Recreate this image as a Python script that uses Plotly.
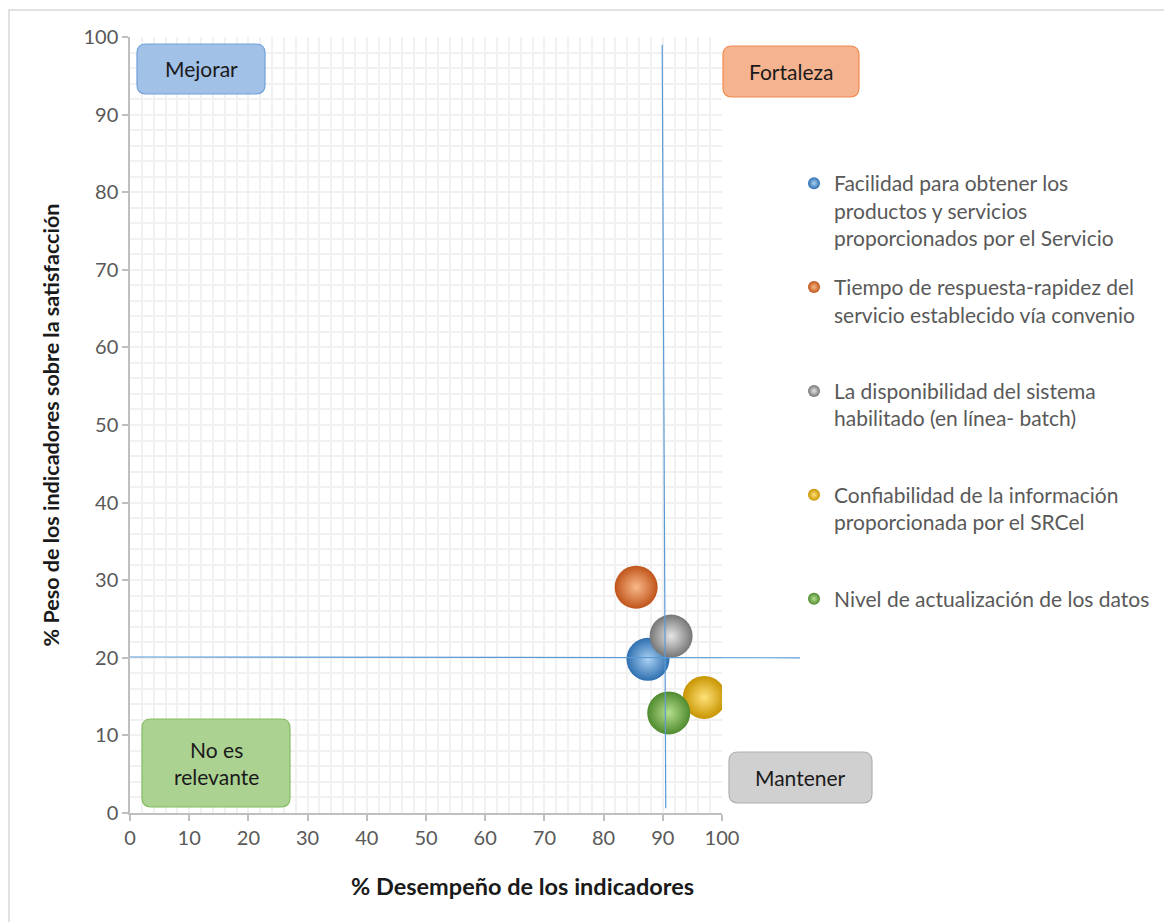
import plotly.graph_objects as go

# indicator data: % performance (x) and % weight on satisfaction (y)
indicadores = [
    "Facilidad para obtener los<br>productos y servicios<br>proporcionados por el Servicio",
    "Tiempo de respuesta-rapidez del<br>servicio establecido vía convenio",
    "La disponibilidad del sistema<br>habilitado (en línea- batch)",
    "Confiabilidad de la información<br>proporcionada por el SRCel",
    "Nivel de actualización de los datos",
]
desempeno = [87.5, 85.5, 91.4, 97.0, 91.0]
peso = [19.8, 29.1, 22.8, 14.9, 12.9]
color_borde = ["#2E6FB0", "#C0541A", "#767676", "#C89400", "#4F8A2E"]
color_brillo = ["#A9D0F2", "#F9B98A", "#E6E6E6", "#FFE27A", "#B6E08F"]

cuadrantes = ["Mejorar", "Fortaleza", "No es<br>relevante", "Mantener"]

# page has an 8px body margin, so the figure is drawn 8px smaller
OFF = 8
W, H = 1172 - OFF, 922 - OFF
L, R, T, B = 130, 722, 37, 813  # plot area in reference pixels


def px(x):
    return (x - L) / (R - L)


def py(y):
    return (B - y) / (B - T)


fig = go.Figure()

# pad every legend item to 3 lines, the gap between groups does the rest
for i, (name, x, y, c, g) in enumerate(zip(indicadores, desempeno, peso, color_borde, color_brillo)):
    n = name.count("<br>") + 1
    label = name + "<br>\u00a0" * (3 - n)
    fig.add_trace(go.Scatter(
        x=[x], y=[y], mode="markers", name=label, legendgroup=str(i),
        marker=dict(size=43, color=c, line=dict(width=0),
                    gradient=dict(type="radial", color=g)),
        hoverinfo="skip",
    ))

shapes = []
# outer frame
shapes.append(dict(type="rect", xref="paper", yref="paper",
                   x0=px(9), x1=px(1185), y0=py(10), y1=py(935),
                   line=dict(color="#D9D9D9", width=1.5), layer="below"))
# quadrant dividers
shapes.append(dict(type="line", xref="x", yref="y", x0=89.9, x1=90.5, y0=99.0, y1=0.6,
                   line=dict(color="#5B9BD5", width=1.2)))
shapes.append(dict(type="line", xref="paper", yref="y", x0=0, x1=px(800), y0=20.1, y1=20.0,
                   line=dict(color="#5B9BD5", width=1.2)))


def rounded(x0, y0, x1, y1, r=9):
    # pixel box -> paper path with rounded corners
    a, b, c, d = px(x0), px(x1), py(y1), py(y0)
    rx, ry = r / (R - L), r / (B - T)
    return (f"M {a+rx},{c} L {b-rx},{c} Q {b},{c} {b},{c+ry} L {b},{d-ry} "
            f"Q {b},{d} {b-rx},{d} L {a+rx},{d} Q {a},{d} {a},{d-ry} "
            f"L {a},{c+ry} Q {a},{c} {a+rx},{c} Z")


cajas = [(137, 44, 265, 94), (723, 46, 859, 97), (142, 719, 290, 807), (729, 752, 872, 803)]
relleno = ["#A2C1E7", "#F6B390", "#ABD291", "#D0D0D0"]
borde = ["#6FA0D8", "#F08A4E", "#84BC60", "#B0B0B0"]
annotations = []
for txt, (x0, y0, x1, y1), f, bc in zip(cuadrantes, cajas, relleno, borde):
    shapes.append(dict(type="path", xref="paper", yref="paper", path=rounded(x0, y0, x1, y1),
                       fillcolor=f, line=dict(color=bc, width=1.2), layer="above"))
    annotations.append(dict(xref="paper", yref="paper", x=px((x0 + x1) / 2), y=py((y0 + y1) / 2),
                            text=txt, showarrow=False, font=dict(size=21, color="#1A1A1A"),
                            xanchor="center", yanchor="middle"))

# x axis title sits right of the plot centre in the reference
annotations.append(dict(xref="paper", yref="paper", x=px(522), y=py(886),
                        text="<b>% Desempeño de los indicadores</b>", showarrow=False,
                        font=dict(size=23.5, color="#1A1A1A"), xanchor="center", yanchor="middle"))

axis_common = dict(
    range=[0, 100], dtick=10, showline=True, linecolor="#BFBFBF", linewidth=1.5,
    ticks="outside", ticklen=6, tickcolor="#BFBFBF", tickwidth=1.5,
    tickfont=dict(size=20, color="#595959"),
    showgrid=True, gridcolor="#F1F1F1", gridwidth=2,
    minor=dict(dtick=2, showgrid=True, gridcolor="#F1F1F1", gridwidth=2),
    zeroline=False, fixedrange=True,
)

fig.update_layout(
    width=W, height=H,
    margin=dict(l=L - OFF, r=W - (R - OFF), t=T - OFF, b=H - (B - OFF), autoexpand=False),
    paper_bgcolor="white", plot_bgcolor="white",
    font=dict(family="Lato, Open Sans, sans-serif"),
    xaxis=axis_common,
    yaxis=dict(axis_common, title=dict(text="<b>% Peso de los indicadores sobre la satisfacción</b>",
                                       font=dict(size=21.5, color="#1A1A1A"), standoff=18)),
    legend=dict(x=px(794), y=py(163), xanchor="left", yanchor="top",
                font=dict(size=21, color="#595959"), valign="top",
                itemsizing="constant", tracegroupgap=19, bgcolor="rgba(0,0,0,0)"),
    shapes=shapes, annotations=annotations,
    showlegend=True,
)

fig.write_html("out.html")
